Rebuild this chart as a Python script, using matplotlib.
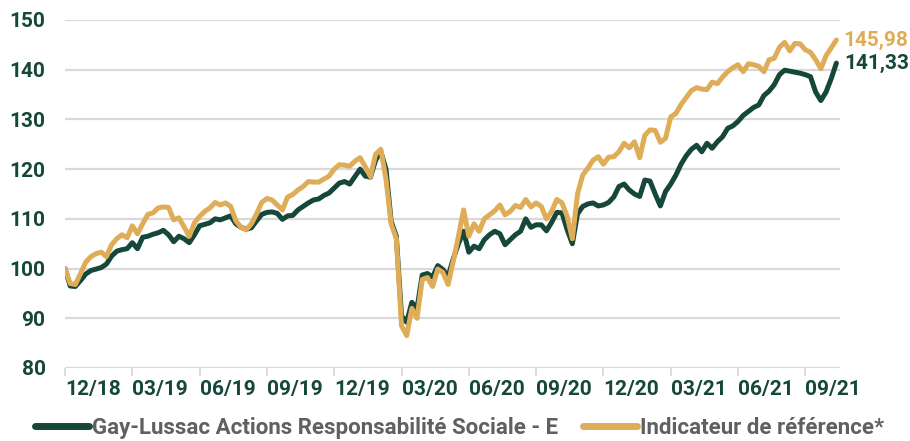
import numpy as np
import matplotlib
matplotlib.use("Agg")
from matplotlib import pyplot as plt

plt.rcParams['font.family'] = ['Roboto', 'DejaVu Sans']

# weekly values, base 100
fonds = [
    100, 96.5, 96.4, 97.6, 98.9, 99.6, 99.9, 100.2, 100.9, 102.5,
    103.5, 103.8, 104, 105.2, 104, 106.3, 106.5, 106.9, 107.2, 107.7,
    106.8, 105.4, 106.5, 106, 105.2, 106.8, 108.6, 108.9, 109.2, 110,
    109.8, 110.2, 110.6, 109, 108.3, 107.9, 108.2, 109.6, 110.9, 111.3,
    111.4, 111.1, 109.9, 110.6, 110.7, 111.8, 112.5, 113.2, 113.8, 114,
    114.7, 115.2, 116.2, 117.2, 117.5, 117, 118.5, 120, 118.6, 118.4,
    121.8, 123.5, 120, 109.5, 106.5, 90.5, 89.2, 93.2, 92, 98.7,
    99, 98.3, 100.6, 99.8, 98.4, 102, 105, 107.5, 103.3, 104.5,
    104, 105.8, 106.8, 107.5, 107, 104.8, 105.8, 106.8, 107.5, 110,
    108.3, 108.8, 108.8, 107.6, 109.3, 111.3, 111.2, 107.8, 105, 111,
    112.5, 113, 113.2, 112.6, 112.8, 113.3, 114.4, 116.5, 117, 115.8,
    115, 114.5, 117.8, 117.6, 115, 112.6, 115.5, 117, 118.8, 121,
    122.7, 124, 124.8, 123.5, 125.2, 124.2, 125.5, 126.5, 128.2, 128.7,
    129.6, 130.8, 131.6, 132.4, 132.9, 134.8, 135.7, 137, 139, 139.9,
    139.7, 139.5, 139.3, 139, 138.6, 135.5, 133.8, 135.5, 138.2, 141.33,
]

indicateur = [
    100, 97, 96.8, 99, 101.3, 102.4, 103, 103.3, 102.4, 104.8,
    106, 106.8, 106.2, 108.6, 107, 109, 110.9, 111.2, 112.2, 112.4,
    112.3, 109.8, 110.2, 108.4, 106.5, 109.2, 110.5, 111.5, 112.2, 113.3,
    112.8, 113.2, 112.5, 109.6, 108.3, 107.8, 109, 111, 113.3, 114.1,
    113.8, 112.8, 111.8, 114.4, 114.9, 115.8, 116.5, 117.5, 117.4, 117.4,
    118, 118.6, 120, 120.9, 120.8, 120.6, 121.6, 122.3, 120.5, 118.5,
    123, 124, 118, 109, 106, 88.5, 86.5, 92, 90, 97.8,
    98.2, 96.4, 99.9, 99.2, 96.8, 101.5, 106.5, 111.8, 106.5, 109,
    107.5, 110, 110.8, 111.6, 112.8, 110.8, 111.5, 112.7, 112.3, 113.9,
    112.4, 113.2, 112.5, 110, 111.5, 113.9, 113.2, 110.5, 106, 115,
    118.8, 120.2, 121.8, 122.5, 121, 122.4, 122.5, 123.5, 125.2, 124.3,
    125.5, 122.3, 126.8, 127.9, 127.8, 125.4, 126.2, 130.5, 131.2, 133,
    134.4, 135.8, 136.4, 136.1, 136, 137.5, 137.2, 138.5, 139.6, 140.4,
    141, 139.6, 141.2, 141, 140.7, 139.6, 142, 142.3, 144.5, 145.5,
    143.8, 145.3, 145.2, 144, 143.5, 142, 140.2, 142.8, 144.4, 145.98,
]

trimestres = ["12/18", "03/19", "06/19", "09/19", "12/19", "03/20",
              "06/20", "09/20", "12/20", "03/21", "06/21", "09/21"]

nom_fonds = "Gay-Lussac Actions Responsabilité Sociale - E"
nom_indic = "Indicateur de référence*"

VERT = "#15473a"
OR = "#dfac57"
GRIS = "#d9d9d9"

semaines = np.arange(len(fonds))

fig = plt.figure(figsize=(9.1, 4.41), dpi=100)
ax = fig.add_axes([65 / 910, 1 - 368 / 441, 775 / 910, 348 / 441])

ax.plot(semaines, fonds, color=VERT, lw=3.6, solid_capstyle="round",
        solid_joinstyle="round", label=nom_fonds, zorder=3)
ax.plot(semaines, indicateur, color=OR, lw=3.6, solid_capstyle="round",
        solid_joinstyle="round", label=nom_indic, zorder=4)

ax.set_xlim(0, 149.7)
ax.set_ylim(80, 150)
ax.set_yticks(range(80, 151, 10))
ax.yaxis.grid(True, color=GRIS, lw=1.6)
ax.set_axisbelow(True)
for s in ax.spines.values():
    s.set_visible(False)

ax.set_xticks(np.arange(len(trimestres)) * 13)
ax.set_xticklabels(trimestres)
for lab in ax.get_xticklabels():
    lab.set_horizontalalignment("left")
ax.tick_params(axis="x", direction="out", length=5.5, width=1.3, color=GRIS,
               pad=3, labelsize=15, labelcolor=VERT)
ax.tick_params(axis="y", length=0, pad=14, labelsize=15, labelcolor=VERT)
for lab in ax.get_xticklabels() + ax.get_yticklabels():
    lab.set_fontweight("bold")

# end values
ax.text(len(fonds) - 1 + 1.3, indicateur[-1], f"{indicateur[-1]:.2f}".replace(".", ","),
        color=OR, fontsize=15, fontweight="bold", va="center", ha="left", clip_on=False)
ax.text(len(fonds) - 1 + 1.6, fonds[-1], f"{fonds[-1]:.2f}".replace(".", ","),
        color=VERT, fontsize=15, fontweight="bold", va="center", ha="left", clip_on=False)

leg = fig.legend(loc="center left", bbox_to_anchor=(35 / 910, 1 - 428 / 441),
                 ncol=2, frameon=False, fontsize=16, handlelength=2.45,
                 handletextpad=0.12, columnspacing=1.1, borderpad=0,
                 borderaxespad=0)
for t in leg.get_texts():
    t.set_color("#606060")
    t.set_fontweight("bold")
for h in leg.get_lines():
    h.set_linewidth(5)
    h.set_solid_capstyle("round")

fig.savefig("out.png", dpi=100)
